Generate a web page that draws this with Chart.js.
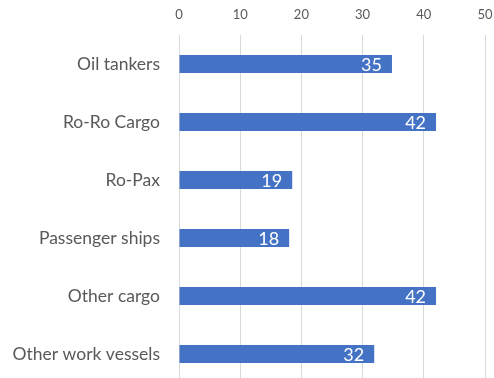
<!DOCTYPE html>
<html>
<head>
<meta charset="utf-8">
<script src="https://cdn.jsdelivr.net/npm/chart.js@4"></script>
<style>
  html, body { margin: 0; padding: 0; background: #fff; overflow: hidden; }
  #wrap { width: 494px; height: 383px; }
</style>
</head>
<body>
<div id="wrap"><canvas id="shipChart" width="494" height="383"></canvas></div>
<script>
const categories = ['Oil tankers', 'Ro-Ro Cargo', 'Ro-Pax', 'Passenger ships', 'Other cargo', 'Other work vessels'];
const values = [34.8, 42, 18.5, 18, 42, 31.9];
const tickValues = [0, 10, 20, 30, 40, 50];

const textColor = '#595959';
const fontFamily = 'Lato, "Open Sans", sans-serif';

// value labels inside the bar ends, white
const barLabels = {
  id: 'barLabels',
  afterDatasetsDraw(chart) {
    const ctx = chart.ctx;
    const meta = chart.getDatasetMeta(0);
    ctx.save();
    ctx.fillStyle = '#ffffff';
    ctx.font = '18px ' + fontFamily;
    ctx.textAlign = 'right';
    ctx.textBaseline = 'middle';
    meta.data.forEach((bar, i) => {
      ctx.fillText(Math.round(values[i]), bar.x - 10, bar.y + 1);
    });
    ctx.restore();
  }
};

new Chart(document.getElementById('shipChart').getContext('2d'), {
  type: 'bar',
  data: {
    labels: categories,
    datasets: [{
      data: values,
      backgroundColor: '#4472C4',
      barPercentage: 0.31,
      categoryPercentage: 1
    }]
  },
  options: {
    indexAxis: 'y',
    responsive: false,
    animation: false,
    layout: { padding: { left: 0, right: 9, top: 0, bottom: 0 } },
    plugins: { legend: { display: false }, tooltip: { enabled: false } },
    scales: {
      x: {
        position: 'top',
        min: 0,
        max: 50,
        afterBuildTicks: axis => { axis.ticks = tickValues.map(v => ({ value: v })); },
        afterFit: axis => {
          axis.height = 35;
          axis.paddingLeft = 0; axis.paddingRight = 0;
        },
        grid: { color: '#D9D9D9', lineWidth: 1, drawTicks: false },
        border: { display: false },
        ticks: { color: textColor, font: { family: fontFamily, size: 13 }, padding: 12 }
      },
      y: {
        afterFit: axis => {
          axis.width = 179;
          axis.paddingTop = 0; axis.paddingBottom = 0;
        },
        grid: { display: false, drawTicks: false },
        border: { display: false },
        ticks: { color: textColor, font: { family: fontFamily, size: 17.5 }, padding: 19 }
      }
    }
  },
  plugins: [barLabels]
});
</script>
</body>
</html>
